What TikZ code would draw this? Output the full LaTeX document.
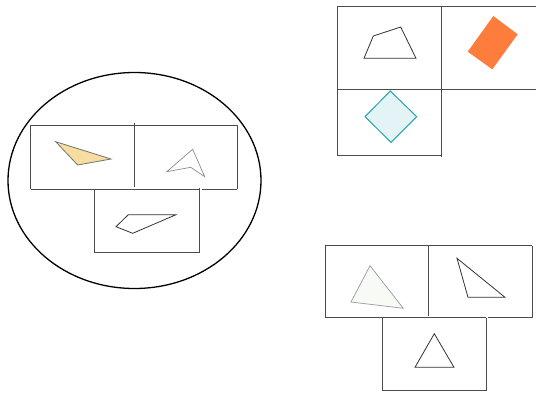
\documentclass[tikz,border=0pt]{standalone}
\begin{document}
\begin{tikzpicture}[x=1pt,y=-1pt,
  gridline/.style={draw=black!70,line width=0.9pt},
  thinshape/.style={draw=black!80,line width=0.8pt,line join=miter},
  lightshape/.style={draw=black!45,line width=0.7pt}]
\useasboundingbox (0,0) rectangle (536,392);
\fill[white] (0,0) rectangle (536,392);
% ---- top-right grid
\draw[gridline] (337,6) -- (536,6);
\draw[gridline] (337,89) -- (536,89);
\draw[gridline] (337,6) -- (337,156);
\draw[gridline] (441,6) -- (441,157);
\draw[gridline] (337,155) -- (441,155);
\draw[thinshape] (364,58.3) -- (373.3,36) -- (400.7,27) -- (416,58.3) -- cycle;
\fill[orange!75!red!60!orange, fill={rgb,255:red,255;green,125;blue,60}] (493.3,16) -- (517.7,34.3) -- (492.3,69.3) -- (467.7,51.7) -- cycle;
\draw[draw={rgb,255:red,40;green,166;blue,166},fill={rgb,255:red,228;green,243;blue,245},line width=1pt]
  (390.3,91) -- (416.7,116.7) -- (391,142.3) -- (365,116.7) -- cycle;
% ---- ellipse group
\draw[black,line width=1.3pt] (134.5,180.5) ellipse [x radius=126.5, y radius=108];
\draw[gridline] (30.7,125) -- (237.3,125);
\draw[gridline] (30.7,125) -- (30.7,189);
\draw[gridline] (237.3,125) -- (237.3,189);
\draw[gridline] (30.7,189) -- (199,189);
\draw[gridline] (202,189) -- (237.3,189);
\draw[gridline] (134,123) -- (134,186.7);
\draw[gridline] (94.3,189) -- (94.3,252.7) -- (199,252.7) -- (199,188);
\draw[draw=black!55,fill={rgb,255:red,245;green,222;blue,160},line width=0.8pt]
  (55.7,141.7) -- (111,159) -- (77.7,165) -- cycle;
\draw[lightshape] (166.7,171.7) -- (192.7,149.3) -- (204.7,176.7) -- (190.7,167.3) -- cycle;
\draw[thinshape] (128.3,214.7) -- (176,214.7) -- (132.7,233.3) -- (116,226.7) -- cycle;
% ---- bottom-right group
\draw[gridline] (325.3,245.7) -- (532,245.7);
\draw[gridline] (325.3,245.7) -- (325.3,317.7) -- (486.3,317.7);
\draw[gridline] (488,317.7) -- (532,317.7) -- (532,245.7);
\draw[gridline] (428.7,245) -- (428.7,315.7);
\draw[gridline] (382.7,317.7) -- (382.7,390.7) -- (486.3,390.7) -- (486.3,317.7);
\draw[draw=black!40,fill={rgb,255:red,248;green,250;blue,245},line width=0.7pt]
  (370,265.7) -- (403.3,308.3) -- (351,302) -- cycle;
\draw[thinshape] (457,258.3) -- (505,297.3) -- (468,297.3) -- cycle;
\draw[thinshape] (434.3,333.7) -- (454,367.3) -- (415,367.3) -- cycle;
\end{tikzpicture}
\end{document}
